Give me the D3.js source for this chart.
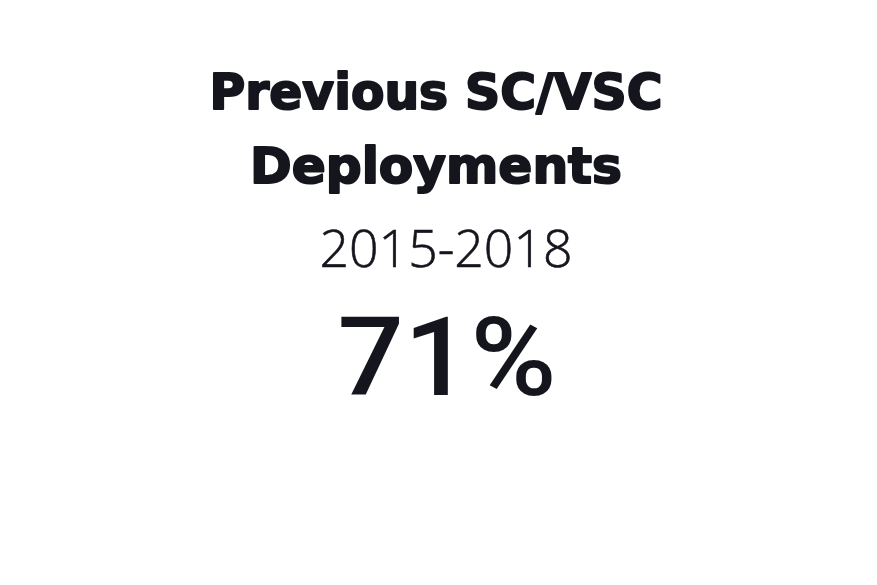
<!DOCTYPE html>
<html>
<head>
<meta charset="utf-8">
<script src="https://cdn.jsdelivr.net/npm/d3@7"></script>
<style>
  html, body { margin: 0; padding: 0; background: #fff; }
  svg { display: block; }
</style>
</head>
<body>
<svg id="chart" width="877" height="585"></svg>
<script>
// chart content
const titleLines = ["Previous SC/VSC", "Deployments"]
const periodLabel = "2015-2018"
const shareValue = 71   // percent of races with SC/VSC

const W = 877, H = 585
const cx = 436
const ink = "#15151e"

const svg = d3.select("#chart")

// big headline, two lines, heavy and wide
const titleRows = [
	{ text: titleLines[0], y: 109, width: 453 },
	{ text: titleLines[1], y: 183, width: 372 }
]

svg.selectAll("text.title")
	.data(titleRows)
	.join("text")
	.attr("class", "title")
	.attr("x", cx)
	.attr("y", (d) => d.y)
	.attr("text-anchor", "middle")
	.attr("font-family", "DejaVu Sans")
	.attr("font-weight", "bold")
	.attr("font-size", 49)
	.attr("fill", ink)
	.attr("stroke", ink)
	.attr("stroke-width", 2)
	.attr("stroke-linejoin", "round")
	.attr("textLength", (d) => d.width)
	.attr("lengthAdjust", "spacingAndGlyphs")
	.text((d) => d.text)

// period, light weight
svg.append("text")
	.attr("x", 446)
	.attr("y", 267)
	.attr("text-anchor", "middle")
	.attr("font-family", "Open Sans")
	.attr("font-weight", 300)
	.attr("font-size", 52)
	.attr("fill", ink)
	.attr("stroke", ink)
	.attr("stroke-width", 0.6)
	.attr("textLength", 253)
	.attr("lengthAdjust", "spacingAndGlyphs")
	.text(periodLabel)

// the number
const fmt = d3.format(".0%")
svg.append("text")
	.attr("x", 447)
	.attr("y", 395)
	.attr("text-anchor", "middle")
	.attr("font-family", "Roboto")
	.attr("font-weight", 500)
	.attr("font-size", 110)
	.attr("fill", ink)
	.attr("textLength", 219)
	.attr("lengthAdjust", "spacingAndGlyphs")
	.text(fmt(shareValue / 100))
</script>
</body>
</html>
